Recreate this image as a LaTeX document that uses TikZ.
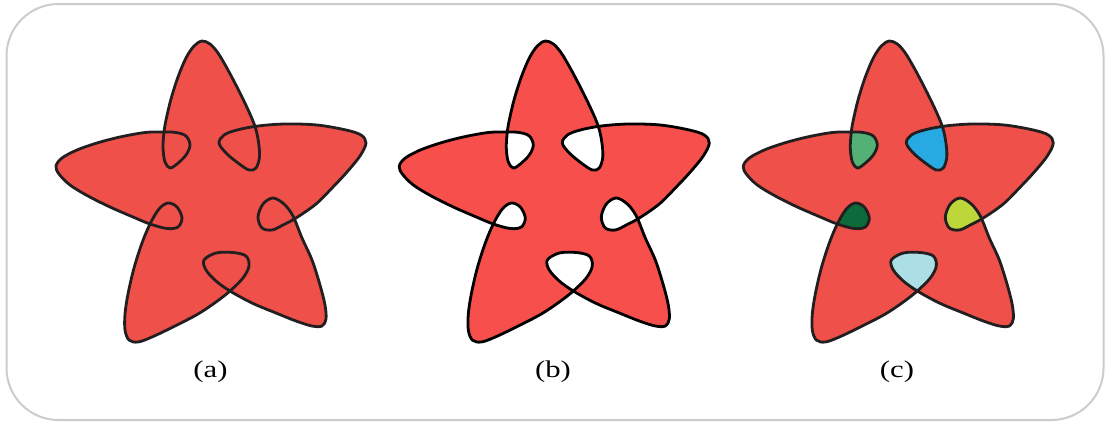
\documentclass[tikz,border=0pt]{standalone}
\usepackage{fontspec}
\setmainfont{Liberation Serif}
\usetikzlibrary{positioning}

\definecolor{stara}{HTML}{EF5049}
\definecolor{starb}{HTML}{F74F4C}
\definecolor{edge}{HTML}{231F20}
\definecolor{holeul}{HTML}{53B175}
\definecolor{holeur}{HTML}{27AAE1}
\definecolor{holell}{HTML}{0B6B3A}
\definecolor{holelr}{HTML}{BDD63A}
\definecolor{holebt}{HTML}{ACDEE5}

% one closed curve: five tips, a small loop at every inner corner
\newcommand\loopstar{plot[smooth cycle, tension=0.55] coordinates {
  (202,41) (210,44) (218,53) (228,70) (240,93) (250,114) (255.5,128)
  (258.5,142) (259.5,157) (256,168) (249,170) (238,163) (226,153) (219,143)
  (224,135) (237,130) (258,126) (285,124) (317,125) (346,130) (361,135)
  (366,143) (360,156) (347,172) (333,187) (316,204) (296,218) (283,225)
  (272,230) (262,228) (258,217) (263,204) (273,198) (284,204) (293,216)
  (302,238) (312,260) (320,285) (325,305) (326,319) (322,326) (312,326)
  (296,321) (276,313) (252,303) (230,291) (216,281) (206,270) (204,260)
  (216,253) (233,252.5) (246,256) (249,266) (243,278) (230,291) (216,302)
  (198,314) (175,326) (152,337) (138,342) (129,340) (125,330) (125,314)
  (128,294) (134,268) (142,243) (150,224) (159,209) (168,203) (177,207)
  (182,218) (178,227) (167,228.5) (150,224) (133,217) (110,207) (88,196)
  (70,185) (59,174) (56,166) (62,158) (77,150) (97,143) (120,137)
  (145,132.5) (163,132) (176,132.5) (186,136) (190,145) (186,155) (177,164)
  (170,168) (165,162) (163,148) (164,132) (166,120) (171,99) (178,77)
  (186,58) (194,46)}}
\newcommand\widecap[1]{\scalebox{1.28}[1]{#1}}

\begin{document}
\begin{tikzpicture}[x=1pt, y=-1pt,
    outline/.style={line width=2.8pt, line join=round},
    caption/.style={font={\fontsize{24}{28}\selectfont}, inner sep=0pt}
]
\useasboundingbox (0,0) rectangle (1107,423);
\draw[black!20, line width=2pt, rounded corners=52pt] (6.5,4) rectangle (1103.5,420);

% (a) nonzero rule
\filldraw[outline, fill=stara, draw=edge] \loopstar;

% (b) even odd rule
\begin{scope}[xshift=343.3pt]
\filldraw[outline, fill=starb, draw=black, even odd rule] \loopstar;
\end{scope}

% (c) loops coloured one by one
\begin{scope}[xshift=687.3pt]
\begin{scope}
\clip \loopstar;
\fill[holeul] (177,150) circle[radius=30];
\fill[holeur] (240,150) circle[radius=30];
\fill[holelr] (270,215) circle[radius=30];
\fill[holebt] (227,268) circle[radius=30];
\fill[holell] (167,216) circle[radius=30];
\end{scope}
\filldraw[outline, fill=stara, draw=edge, even odd rule] \loopstar;
\end{scope}

\node[caption] (capa) at (210.5,372) {\widecap{(a)}};
\node[caption] (capb) at (553,372) {\widecap{(b)}};
\node[caption] (capc) at (897,372) {\widecap{(c)}};
\end{tikzpicture}
\end{document}
